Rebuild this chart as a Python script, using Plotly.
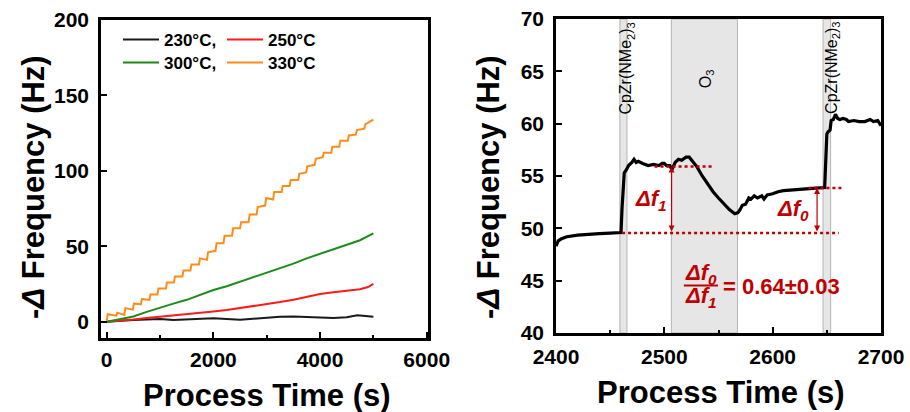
import plotly.graph_objects as go

FONT = "Arial, Liberation Sans, sans-serif"
RED = "#c00000"

# ---- left panel: -Δf vs time at 4 temperatures ----
t_230 = [0, 250, 500, 750, 1000, 1250, 1500, 1750, 2000, 2250, 2500, 2750, 3000,
         3250, 3500, 3750, 4000, 4250, 4500, 4700, 4850, 5000]
f_230 = [0, 0.7, 1.2, 1.5, 1.8, 1.2, 1.5, 2.0, 2.3, 1.8, 1.3, 2.0, 2.8,
         3.3, 3.5, 3.2, 2.8, 2.5, 3.0, 4.3, 3.8, 3.3]

t_250 = [0, 250, 500, 750, 1000, 1250, 1500, 1750, 2000, 2250, 2500, 2750, 3000,
         3250, 3500, 3750, 4000, 4250, 4500, 4750, 4900, 5000]
f_250 = [0, 0.5, 1.5, 2.5, 3.3, 4.0, 5.0, 6.0, 6.8, 7.8, 9.0, 10.3, 11.8,
         13.0, 14.5, 16.5, 18.3, 19.5, 20.5, 21.5, 23.0, 25.0]

t_300 = [0, 250, 500, 750, 1000, 1250, 1500, 1750, 2000, 2250, 2500, 2750, 3000,
         3250, 3500, 3750, 4000, 4250, 4500, 4750, 5000]
f_300 = [0, 1.5, 3.5, 6.5, 9.5, 12.0, 14.5, 18.0, 21.0, 23.5, 26.5, 29.5, 32.0,
         35.0, 38.5, 42.0, 45.0, 47.5, 50.5, 54.0, 58.5]

t_330 = [0, 20, 180, 200, 330, 350, 490, 510, 640, 660, 800, 820, 950, 970,
         1110, 1130, 1260, 1280, 1420, 1440, 1570, 1590, 1730, 1750, 1880, 1900,
         2040, 2060, 2190, 2210, 2350, 2370, 2500, 2520, 2660, 2680, 2810, 2830,
         2970, 2990, 3120, 3140, 3280, 3300, 3430, 3450, 3590, 3610, 3740, 3760,
         3900, 3920, 4050, 4070, 4210, 4230, 4360, 4380, 4520, 4540, 4670, 4690,
         4830, 4850, 5000]
f_330 = [0.5, 5, 4, 6, 4.5, 9, 8, 12, 11.5, 15, 14.5, 18, 18, 22,
         22, 26, 26, 30, 30, 34, 34, 38, 38, 42, 41, 46,
         47, 52, 52, 57, 57, 62, 62, 66, 66, 71, 71, 76,
         77, 82, 81, 86, 86, 90, 90, 94, 94, 98, 99, 103,
         104, 108, 109, 112, 112, 116, 116, 120, 120, 123.5, 124, 127,
         128, 131, 134]

series = [
    ("230°C,", t_230, f_230, "#1a1a1a", "legend"),
    ("250°C", t_250, f_250, "#ff1a1a", "legend"),
    ("300°C,", t_300, f_300, "#1a8c1a", "legend2"),
    ("330°C", t_330, f_330, "#ff8c1a", "legend2"),
]

x1_ticks = [0, 2000, 4000, 6000]
y1_ticks = [0, 50, 100, 150, 200]
x2_ticks = [2400, 2500, 2600, 2700]
y2_ticks = [40, 45, 50, 55, 60, 65, 70]

# ---- right panel: one ALD cycle ----
t_cyc = [2400, 2402, 2405, 2410, 2420, 2430, 2440, 2450, 2460, 2461, 2462, 2463,
         2465, 2467, 2470, 2472, 2474, 2476, 2480, 2485, 2490, 2495, 2498, 2500,
         2502, 2505, 2507, 2510, 2513, 2516, 2520, 2523, 2526, 2530, 2535, 2540,
         2545, 2550, 2555, 2560, 2565, 2568, 2570, 2572, 2575, 2578, 2580, 2583,
         2586, 2590, 2592, 2595, 2600, 2605, 2610, 2620, 2630, 2640, 2648, 2649,
         2650, 2651, 2653, 2654, 2656, 2658, 2660, 2662, 2665, 2668, 2670, 2675,
         2680, 2685, 2690, 2693, 2697, 2700]
f_cyc = [48.3, 48.8, 49.0, 49.2, 49.35, 49.45, 49.5, 49.55, 49.6, 52.0, 54.5, 55.3,
         55.6, 56.0, 56.3, 56.6, 56.3, 56.4, 56.2, 56.0, 56.1, 56.0, 56.2, 56.2,
         56.0, 56.0, 55.6, 56.3, 56.6, 56.5, 56.8, 56.8, 56.4, 55.9, 55.0, 54.2,
         53.5, 52.9, 52.3, 51.8, 51.4, 51.5, 51.8, 52.2, 52.3, 52.9, 52.8, 53.1,
         52.9, 53.1, 52.8, 53.2, 53.3, 53.5, 53.6, 53.7, 53.8, 53.85, 53.9, 56.5,
         59.0, 59.2, 59.4, 60.3, 60.4, 60.9, 60.5, 60.4, 60.5, 60.4, 60.2, 60.3,
         60.2, 60.2, 60.4, 60.2, 60.3, 59.8]

# pulse windows (start, end, label, label x, label y)
pulses = [(2459, 2465.5, "CpZr(NMe<sub>2</sub>)<sub>3</sub>", 2465, 65.3),
          (2506.5, 2567.5, "O<sub>3</sub>", 2539, 64.3),
          (2646.5, 2653.5, "CpZr(NMe<sub>2</sub>)<sub>3</sub>", 2654.5, 65.3)]

f_base = 49.55   # level before precursor pulse
f_top1 = 55.9    # level after precursor pulse
f_top0 = 53.85   # level after O3 pulse
ratio_text = "= 0.64±0.03"

fig = go.Figure()

for name, t, f, c, lg in series:
    fig.add_trace(go.Scatter(x=t, y=f, mode="lines", name=name, legend=lg,
                             line=dict(color=c, width=2), xaxis="x", yaxis="y"))

fig.add_trace(go.Scatter(x=t_cyc, y=f_cyc, mode="lines", showlegend=False,
                         line=dict(color="black", width=3.2), xaxis="x2", yaxis="y2"))

shapes = []
annotations = []
for x0, x1, lab, lx, ly in pulses:
    shapes.append(dict(type="rect", xref="x2", yref="y2", x0=x0, x1=x1, y0=40, y1=70,
                       fillcolor="#e6e6e6", line=dict(color="#b4b4b4", width=1),
                       layer="below"))
    annotations.append(dict(xref="x2", yref="y2", x=lx, y=ly, text=lab,
                            textangle=-90, showarrow=False,
                            font=dict(family=FONT, size=16, color="black")))

# dotted guide lines
dot = dict(color=RED, width=2.5, dash="dot")
shapes.append(dict(type="line", xref="x2", yref="y2", x0=2461, x1=2661,
                   y0=f_base, y1=f_base, line=dot))
shapes.append(dict(type="line", xref="x2", yref="y2", x0=2491, x1=2546,
                   y0=f_top1, y1=f_top1, line=dot))
shapes.append(dict(type="line", xref="x2", yref="y2", x0=2633, x1=2664,
                   y0=f_top0, y1=f_top0, line=dot))
# fraction bar
shapes.append(dict(type="line", xref="x2", yref="y2", x0=2518, x1=2549.5,
                   y0=44.55, y1=44.55, line=dict(color=RED, width=2)))

# double arrows
for xa, ytop in [(2506.7, f_top1), (2641, f_top0)]:
    annotations.append(dict(xref="x2", yref="y2", axref="x2", ayref="y2",
                            x=xa, y=ytop, ax=xa, ay=f_base, text="",
                            showarrow=True, arrowhead=2, arrowside="end+start",
                            arrowsize=1, arrowwidth=1.2, arrowcolor=RED))

red_font = dict(family=FONT, size=22, color=RED)
for x, y, txt in [(2488, 52.7, "Δf<sub>1</sub>"), (2619, 51.75, "Δf<sub>0</sub>"),
                  (2534, 45.65, "Δf<sub>0</sub>"), (2534, 43.45, "Δf<sub>1</sub>")]:
    annotations.append(dict(xref="x2", yref="y2", x=x, y=y, xanchor="center",
                            text="<b><i>" + txt + "</i></b>", showarrow=False,
                            font=red_font))
annotations.append(dict(xref="x2", yref="y2", x=2552, y=44.45, xanchor="left",
                        text="<b>" + ratio_text + "</b>", showarrow=False,
                        font=red_font))

# axis titles
title_font = dict(family=FONT, size=31, color="black")
xt = "<b>Process Time (s)</b>"
yt = "<b>-<i>Δ</i> Frequency (Hz)</b>"
for x, y, txt, ang in [(267, 395, xt, 0), (721, 392, xt, 0),
                       (33, 187, yt, -90), (488, 187, yt, -90)]:
    annotations.append(dict(xref="paper", yref="paper", x=x / 910, y=1 - y / 412,
                            xanchor="center", yanchor="middle", text=txt,
                            textangle=ang, showarrow=False, font=title_font))

tick_font = dict(family=FONT, size=21, color="black", weight="bold")
ax_common = dict(showline=True, mirror=True, linecolor="black", linewidth=2.5,
                 ticks="inside", ticklen=6, tickwidth=2, tickcolor="black",
                 showgrid=False, zeroline=False, tickfont=tick_font)
minor_ticks = dict(ticks="inside", ticklen=3, tickwidth=2, tickcolor="black")
legend_font = dict(family=FONT, size=17, color="black", weight="bold")


def bold(vals):
    return ["<b>%d</b>" % v for v in vals]


fig.update_layout(
    width=910, height=412,
    paper_bgcolor="white", plot_bgcolor="white",
    margin=dict(l=0, r=0, t=0, b=0, autoexpand=False),
    font=dict(family=FONT),
    xaxis=dict(domain=[101 / 910, 428 / 910], range=[-107, 6024],
               tickvals=x1_ticks, ticktext=bold(x1_ticks), ticklabelstandoff=1,
               minor=dict(dtick=1000, **minor_ticks), anchor="y", **ax_common),
    yaxis=dict(domain=[1 - 338 / 412, 1 - 20 / 412], range=[-10.8, 200],
               tickvals=y1_ticks, ticktext=bold(y1_ticks), ticklabelstandoff=5,
               anchor="x", **ax_common),
    xaxis2=dict(domain=[556 / 910, 881 / 910], range=[2400, 2700],
                tickvals=x2_ticks, ticktext=bold(x2_ticks), ticklabelstandoff=3,
                minor=dict(dtick=50, **minor_ticks), anchor="y2", **ax_common),
    yaxis2=dict(domain=[1 - 333 / 412, 1 - 19 / 412], range=[40, 70],
                tickvals=y2_ticks, ticktext=bold(y2_ticks), ticklabelstandoff=5,
                anchor="x2", **ax_common),
    legend=dict(orientation="h", x=118 / 910, y=1 - 40 / 412, xanchor="left",
                yanchor="middle", entrywidth=53, itemwidth=36,
                bgcolor="rgba(0,0,0,0)", font=legend_font),
    legend2=dict(orientation="h", x=118 / 910, y=1 - 63 / 412, xanchor="left",
                 yanchor="middle", entrywidth=53, itemwidth=36,
                 bgcolor="rgba(0,0,0,0)", font=legend_font),
    shapes=shapes, annotations=annotations,
    showlegend=True,
)

fig.write_html("out.html", config={"displayModeBar": False},
               post_script="document.body.style.margin='0';")
